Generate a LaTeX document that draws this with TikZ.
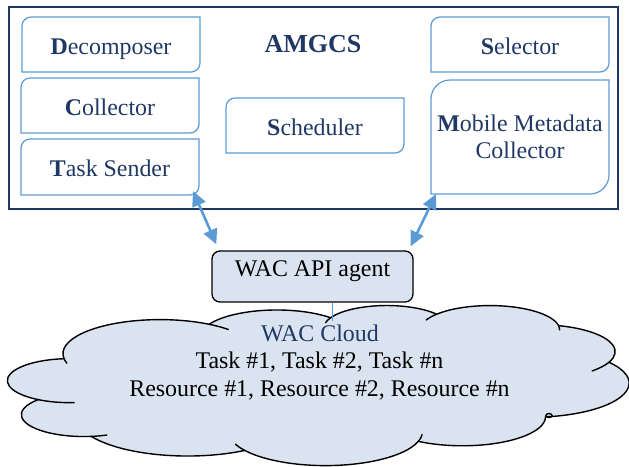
\documentclass[tikz,border=0pt]{standalone}
\usepackage{fontspec}
\setmainfont{Liberation Serif}
\usetikzlibrary{arrows.meta,calc}

\definecolor{navy}{HTML}{1F3864}
\definecolor{boxblue}{HTML}{5B9BD5}
\definecolor{cloudfill}{HTML}{DAE3F0}

% outline with the top-left and bottom-right corners rounded
\newcommand\diagoutline[2]{%
  \draw[boxline] (#1.south west) -- ([yshift=-#2]#1.north west)
    arc[start angle=180, end angle=90, radius=#2] -- (#1.north east)
    -- ([yshift=#2]#1.south east)
    arc[start angle=0, end angle=-90, radius=#2] -- cycle;}

\begin{document}
\begin{tikzpicture}[x=1pt, y=-1pt,
  partbox/.style={draw=none, minimum width=178pt, minimum height=55pt,
    inner sep=0pt, outer sep=0pt, text=navy,
    font=\fontsize{23.9}{27.6}\selectfont},
  oneline/.style={text height=19pt, text depth=0pt},
  boxline/.style={draw=boxblue, line width=1.2pt},
  frame/.style={draw=navy, line width=2.6pt},
  dblarrow/.style={draw=boxblue, line width=2.6pt,
    {Triangle[length=15pt,width=14pt]}-{Triangle[length=15pt,width=14pt]}},
  cloudline/.style={draw=black, line width=1.4pt},
  cloudtext/.style={font=\fontsize{23.9}{27.6}\selectfont, anchor=base,
    inner sep=0pt}]

\useasboundingbox (0,0) rectangle (629,466);

% AMGCS frame
\draw[frame] (9,7) rectangle (618,209);
\node[text=navy, font=\fontsize{26}{30}\selectfont\bfseries, anchor=base,
  inner sep=0pt] (title) at (313,52) {AMGCS};

% components
\node[partbox, oneline] (dec) at (111,44.5) {\textbf{D}ecomposer};
\node[partbox, oneline] (col) at (110,105.5) {\textbf{C}ollector};
\node[partbox, oneline, minimum height=56pt] (tsend) at (110,167) {\textbf{T}ask Sender};
\node[partbox, oneline] (sched) at (315,125.5) {\textbf{S}cheduler};
\node[partbox, oneline] (sel) at (520,44.5) {\textbf{S}elector};
\node[partbox, minimum height=114pt, align=center] (mmc) at (520,137)
  {\textbf{M}obile Metadata\\Collector};

\diagoutline{dec}{9pt}
\diagoutline{col}{9pt}
\diagoutline{tsend}{9pt}
\diagoutline{sched}{9pt}
\diagoutline{sel}{9pt}
\diagoutline{mmc}{19pt}

% WAC cloud
\begin{scope}[shift={(7.8,305)}, x=1.4375pt, y=-0.37037pt]
  \draw[cloudline, fill=cloudfill] (39.00,143.70)
    arc[start angle=172.25, end angle=300.37, x radius=67.53, y radius=91.90]
    arc[start angle=-152.02, end angle=-45.44, x radius=53.33, y radius=72.67]
    arc[start angle=-153.49, end angle=-37.32, x radius=43.65, y radius=59.45]
    arc[start angle=-139.71, end angle=-10.22, x radius=48.57, y radius=65.95]
    arc[start angle=-74.78, end angle=23.21, x radius=53.33, y radius=72.73]
    arc[start angle=-37.55, end angle=81.86, x radius=67.75, y radius=92.20]
    arc[start angle=0.46, end angle=121.98, x radius=57.85, y radius=78.67]
    arc[start angle=16.85, end angle=146.23, x radius=67.52, y radius=92.15]
    arc[start angle=58.98, end angle=150.18, x radius=77.20, y radius=105.43]
    arc[start angle=83.31, end angle=223.12, x radius=43.60, y radius=59.18]
    arc[start angle=120.35, end angle=264.11, x radius=43.45, y radius=59.45]
    -- cycle;
  % inner puff strokes
  \draw[cloudline] (43.14,204.23) ++(85.54:43.45 and 59.45)
    arc[start angle=85.54, end angle=120.35, x radius=43.45, y radius=59.45];
  \draw[cloudline] (53.01,295.99) ++(68.23:43.60 and 59.18)
    arc[start angle=68.23, end angle=83.31, x radius=43.60, y radius=59.18];
  \draw[cloudline] (221.00,341.47) ++(146.23:67.52 and 92.15)
    arc[start angle=146.23, end angle=158.47, x radius=67.52, y radius=92.15];
  \draw[cloudline] (221.00,341.47) ++(4.74:67.52 and 92.15)
    arc[start angle=4.74, end angle=16.85, x radius=67.52, y radius=92.15];
  \draw[cloudline] (369.21,125.95) ++(23.21:53.33 and 72.73)
    arc[start angle=23.21, end angle=46, x radius=53.33, y radius=72.73];
  \draw[cloudline] (335.41,67.47) ++(-10.22:48.57 and 65.95)
    arc[start angle=-10.22, end angle=0.83, x radius=48.57, y radius=65.95];
  \draw[cloudline] (335.41,67.47) ++(-156.3:48.57 and 65.95)
    arc[start angle=-156.3, end angle=-139.71, x radius=48.57, y radius=65.95];
  \draw[cloudline] (263.64,60.87) ++(-167.72:43.65 and 59.45)
    arc[start angle=-167.72, end angle=-153.49, x radius=43.65, y radius=59.45];
  \draw[cloudline] (105.91,131.31) ++(-59.63:67.53 and 91.90)
    arc[start angle=-59.63, end angle=-45, x radius=67.53, y radius=91.90];
  \draw[cloudline] (105.91,131.31) ++(163.2:67.53 and 91.90)
    arc[start angle=163.2, end angle=172.25, x radius=67.53, y radius=91.90];
\end{scope}
\draw[cloudline] (549,415.5) ellipse[x radius=3, y radius=2];

\node[cloudtext, text=navy] (cloudtitle) at (320,341) {WAC Cloud};
\node[cloudtext] (tasks) at (319.5,368.7) {Task \#1, Task \#2, Task \#n};
\node[cloudtext] (res) at (319.5,396.2) {Resource \#1, Resource \#2, Resource \#n};

% API agent
\node[draw=black, line width=1.3pt, fill=cloudfill, rounded corners=8pt,
  minimum width=201pt, minimum height=51pt, inner sep=0pt,
  font=\fontsize{23.9}{27.6}\selectfont, text height=8pt, text depth=8pt]
  (agent) at (312.5,276.5) {WAC API agent};

\coordinate (tap) at (332,321);
\draw[boxblue, line width=0.8pt] (agent.south -| tap) -- (tap);

% links between the frame and the agent
\draw[dblarrow] ([shift={(-6,-4)}]tsend.south east) -- ([shift={(5,-6)}]agent.north west);
\draw[dblarrow] ([shift={(5,0)}]mmc.south west) -- ([shift={(-3,-4)}]agent.north east);
\end{tikzpicture}
\end{document}
